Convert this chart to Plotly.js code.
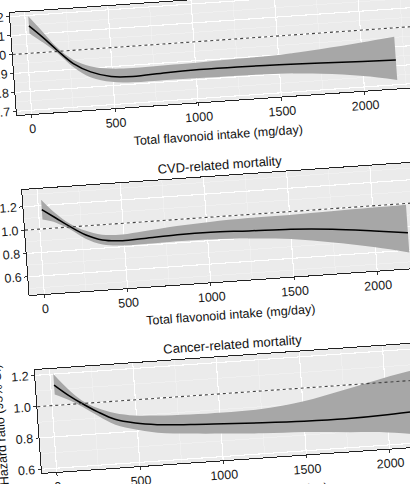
<!DOCTYPE html>
<html>
<head>
<meta charset="utf-8">
<script src="https://cdn.plot.ly/plotly-3.0.1.min.js"></script>
<style>
  html, body { margin: 0; padding: 0; width: 410px; height: 484px; overflow: hidden; background: #ffffff; }
  #wrap { position: absolute; left: 0; top: 0; width: 460px; height: 545px;
          transform-origin: 0 0; transform: translate(-40px, -20px) rotate(-4deg); }
  #chart { width: 460px; height: 545px; }
</style>
</head>
<body>
<div id="wrap"><div id="chart"></div></div>
<script>
// Total flavonoid intake (mg/day)
const intake = [20, 100, 180, 270, 370, 490, 620, 820, 1020, 1250, 1500, 1750, 2000, 2200];

// Panel 1: all-cause mortality (title cropped in the reference)
const hrAll = [1.145, 1.078, 1.005, 0.93, 0.88, 0.848, 0.84, 0.848, 0.852, 0.852, 0.848, 0.842, 0.835, 0.83];
const hiAll = [1.195, 1.108, 1.02, 0.95, 0.91, 0.89, 0.885, 0.888, 0.89, 0.895, 0.90, 0.915, 0.935, 0.953];
const loAll = [1.105, 1.05, 0.99, 0.91, 0.85, 0.82, 0.81, 0.81, 0.808, 0.806, 0.80, 0.785, 0.758, 0.725];

// Panel 2: CVD-related mortality
const hrCvd = [1.165, 1.085, 1.005, 0.925, 0.87, 0.852, 0.858, 0.87, 0.872, 0.86, 0.85, 0.825, 0.785, 0.75];
const hiCvd = [1.25, 1.125, 1.03, 0.96, 0.915, 0.905, 0.92, 0.945, 0.96, 0.97, 0.972, 0.978, 0.985, 0.99];
const loCvd = [1.08, 1.045, 0.98, 0.89, 0.83, 0.81, 0.81, 0.815, 0.81, 0.795, 0.765, 0.71, 0.645, 0.58];

// Panel 3: cancer-related mortality
const hrCan = [1.13, 1.06, 1.0, 0.94, 0.885, 0.852, 0.832, 0.818, 0.808, 0.797, 0.788, 0.785, 0.792, 0.805];
const hiCan = [1.20, 1.10, 1.02, 0.965, 0.925, 0.90, 0.89, 0.882, 0.88, 0.885, 0.915, 0.97, 1.03, 1.07];
const loCan = [1.07, 1.03, 0.98, 0.915, 0.85, 0.81, 0.78, 0.76, 0.745, 0.73, 0.72, 0.70, 0.68, 0.65];

const panelTitles = ["", "CVD-related mortality", "Cancer-related mortality"];
const xTitle = "Total flavonoid intake (mg/day)";
const yTitle = "Hazard ratio (95% CI)";
const xTicks = [0, 500, 1000, 1500, 2000];

const panels = [
  {hr: hrAll, hi: hiAll, lo: loAll, range: [0.68, 1.22], dtick: 0.1, dom: [0.7455, 0.9334]},
  {hr: hrCvd, hi: hiCvd, lo: loCvd, range: [0.444, 1.344], dtick: 0.2, dom: [0.4145, 0.6077]},
  {hr: hrCan, hi: hiCan, lo: loCan, range: [0.576, 1.234], dtick: 0.2, dom: [0.0872, 0.2765]}
];

const FONT = "Liberation Sans, Arial, Helvetica, sans-serif";
const bandColor = "#a7a7a7";
const traces = [];
const layout = {
  width: 460, height: 545,
  margin: {l: 0, r: 0, t: 0, b: 0},
  paper_bgcolor: "#ffffff",
  plot_bgcolor: "#ebebeb",
  showlegend: false,
  font: {family: FONT, size: 12.5, color: "#1a1a1a"},
  shapes: [],
  annotations: []
};

panels.forEach((p, i) => {
  const n = i === 0 ? "" : String(i + 1);
  const xa = "x" + n, ya = "y" + n;
  traces.push({x: intake, y: p.lo, xaxis: xa, yaxis: ya, type: "scatter", mode: "lines",
               line: {width: 0, shape: "spline", smoothing: 1}, hoverinfo: "skip"});
  traces.push({x: intake, y: p.hi, xaxis: xa, yaxis: ya, type: "scatter", mode: "lines",
               fill: "tonexty", fillcolor: bandColor,
               line: {width: 0, shape: "spline", smoothing: 1}, hoverinfo: "skip"});
  traces.push({x: intake, y: p.hr, xaxis: xa, yaxis: ya, type: "scatter", mode: "lines",
               line: {width: 1.5, color: "#000000", shape: "spline", smoothing: 1}});

  layout["xaxis" + n] = {
    domain: [0.103, 0.9726], anchor: ya, range: [-89, 2309],
    tickvals: xTicks, ticktext: xTicks.map(String),
    showgrid: true, gridcolor: "#ffffff", gridwidth: 1.1,
    minor: {dtick: 250, tick0: 250, showgrid: true, gridcolor: "#f6f6f6", gridwidth: 0.5},
    zeroline: false, showline: true, mirror: true, linecolor: "#222222", linewidth: 1,
    ticks: "outside", ticklen: 3, tickcolor: "#333333",
    tickfont: {family: FONT, size: 12.5, color: "#1a1a1a"}
  };
  layout["yaxis" + n] = {
    domain: p.dom, anchor: xa, range: p.range, dtick: p.dtick, tick0: 0, tickformat: ".1f",
    showgrid: true, gridcolor: "#ffffff", gridwidth: 1.1,
    minor: {dtick: p.dtick / 2, tick0: 0, showgrid: true, gridcolor: "#f6f6f6", gridwidth: 0.5},
    zeroline: false, showline: true, mirror: true, linecolor: "#222222", linewidth: 1,
    ticks: "outside", ticklen: 3, tickcolor: "#333333",
    tickfont: {family: FONT, size: 12.5, color: "#1a1a1a"}
  };
  layout.shapes.push({type: "line", xref: xa + " domain", x0: 0, x1: 1, yref: ya, y0: 1, y1: 1,
                      line: {color: "#444444", width: 1.1, dash: "dot"}});
  if (panelTitles[i]) {
    layout.annotations.push({text: panelTitles[i], xref: "paper", yref: "paper",
      x: 0.536, y: p.dom[1] + 0.021, xanchor: "center", yanchor: "middle", showarrow: false,
      font: {family: FONT, size: 13, color: "#111111"}});
  }
  layout.annotations.push({text: xTitle, xref: "paper", yref: "paper",
    x: 0.537, y: p.dom[0] - 0.063, xanchor: "center", yanchor: "middle", showarrow: false,
    font: {family: FONT, size: 12.5, color: "#111111"}});
});

layout.annotations.push({text: yTitle, xref: "paper", yref: "paper", textangle: -90,
  x: 0.02, y: 0.18, xanchor: "center", yanchor: "middle", showarrow: false,
  font: {family: FONT, size: 12.5, color: "#111111"}});

Plotly.newPlot("chart", traces, layout, {displayModeBar: false, staticPlot: true});
</script>
</body>
</html>
